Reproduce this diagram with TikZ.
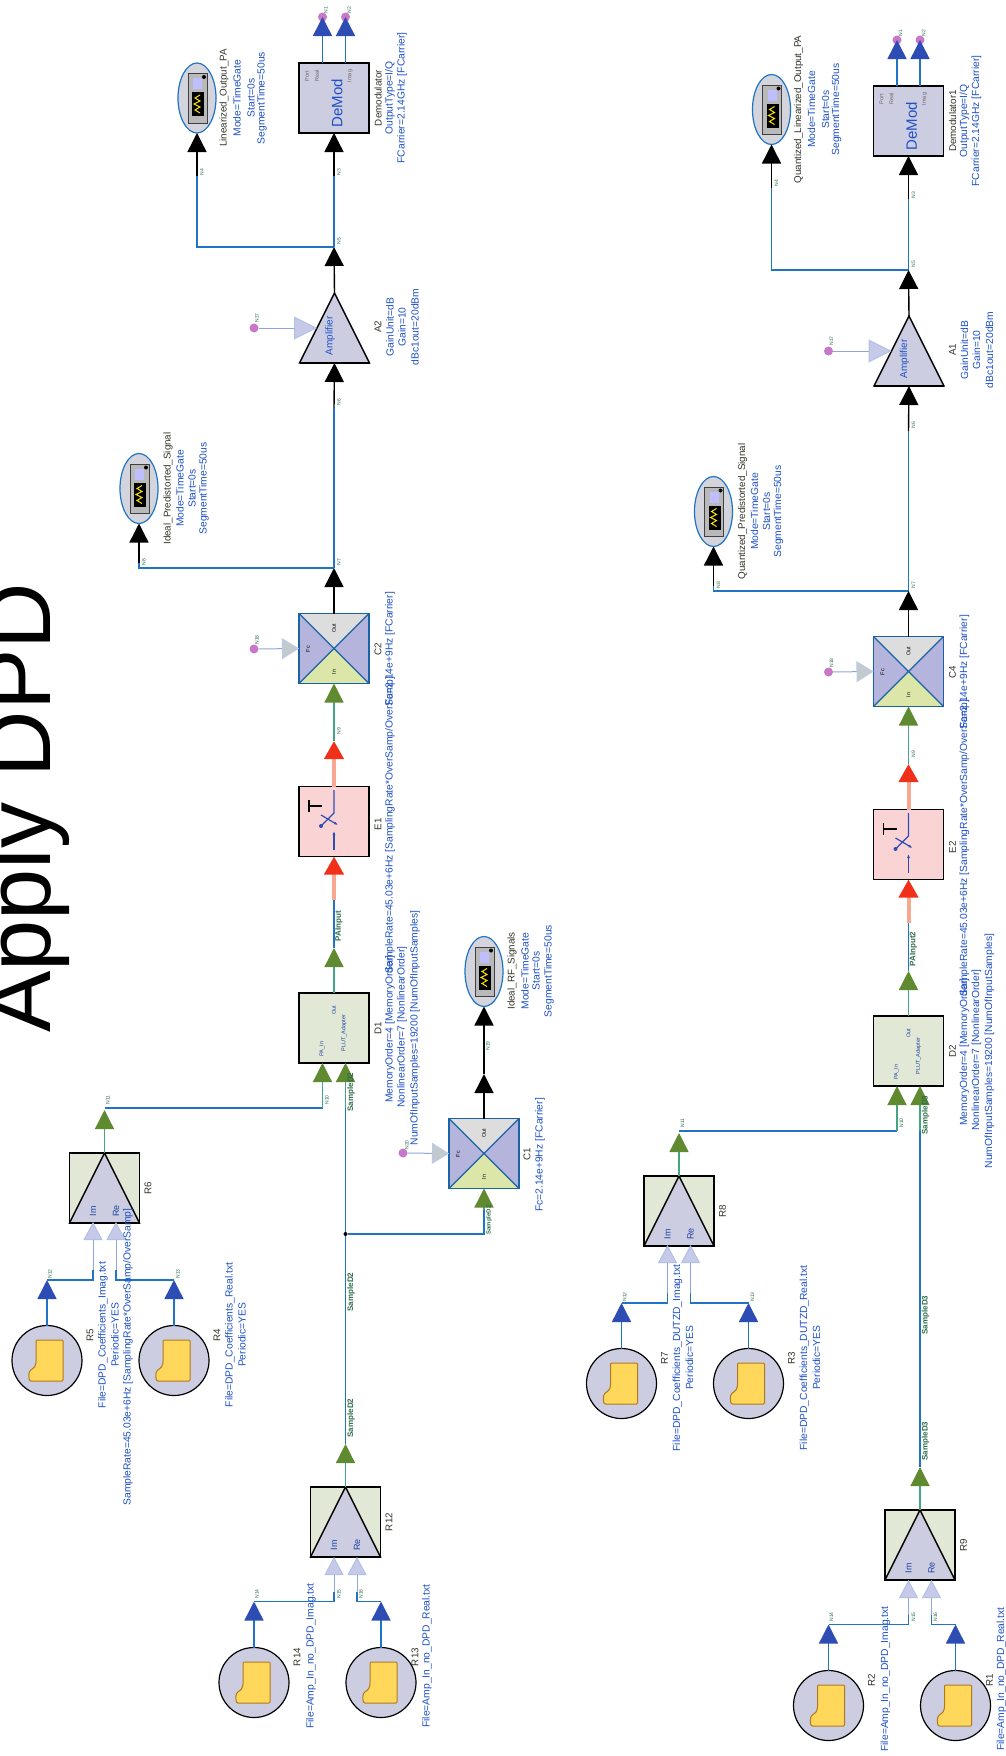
\documentclass[tikz,border=0pt]{standalone}
\usepackage{fontspec}
\setmainfont{Liberation Sans}
\usetikzlibrary{arrows.meta,shapes.geometric,calc}
\definecolor{wireblue}{HTML}{1F74C4}
\definecolor{tipblue}{HTML}{2E4DB4}
\definecolor{wiregreen}{HTML}{45A583}
\definecolor{tipgreen}{HTML}{5F8A30}
\definecolor{tipred}{HTML}{F03018}
\definecolor{salmon}{HTML}{F8A890}
\definecolor{lilac}{HTML}{CDCDE2}
\definecolor{crosslilac}{HTML}{B4B4DC}
\definecolor{crossgray}{HTML}{DDDDDD}
\definecolor{crossyel}{HTML}{DCE6A8}
\definecolor{boxgreen}{HTML}{E1E8D6}
\definecolor{boxpink}{HTML}{FAD4D4}
\definecolor{lighttip}{HTML}{C6CAE8}
\definecolor{lightline}{HTML}{8FA6DC}
\definecolor{graytip}{HTML}{C2CACC}
\definecolor{pinkdot}{HTML}{C878C8}
\definecolor{txtblue}{HTML}{1E50C8}
\definecolor{txtname}{HTML}{33332A}
\definecolor{idgreen}{HTML}{2F6F4A}
\definecolor{docyel}{HTML}{FFD75A}
\definecolor{docedge}{HTML}{B07820}
\definecolor{ovalgray}{HTML}{D4D4DC}
\tikzset{
  wb/.style={draw=wireblue,line width=1.5pt},
  wk/.style={draw=black,line width=1.4pt},
  wg/.style={draw=wiregreen,line width=1.3pt},
  ws/.style={draw=salmon,line width=4pt},
  wl/.style={draw=lightline,line width=1pt},
  tipk/.style={-{Triangle[length=19pt,width=19pt,color=black]}},
  tipb/.style={-{Triangle[length=19pt,width=19pt,color=tipblue]}},
  tipg/.style={-{Triangle[length=19pt,width=19pt,color=tipgreen]}},
  tipr/.style={-{Triangle[length=18pt,width=19pt,color=tipred]}},
  tipl/.style={-{Triangle[length=18pt,width=19pt,fill=lighttip,color=lightline!70]}},
  tipgain/.style={-{Triangle[length=23pt,width=23pt,fill=lighttip,color=lightline!70]}},
  tipgray/.style={-{Triangle[length=17pt,width=21pt,fill=graytip,color=lightline!60]}},
  pinbox/.style={minimum width=70pt,minimum height=70pt,inner sep=0pt,outer sep=0pt},
  darkbox/.style={pinbox,draw=black,line width=1.4pt},
  crossbox/.style={pinbox},
  srccircle/.style={circle,draw=black,line width=1.2pt,fill=lilac,minimum size=70pt,inner sep=0pt,outer sep=0pt},
  scopeoval/.style={ellipse,draw=wireblue,line width=1.2pt,fill=ovalgray,minimum width=38pt,minimum height=70pt,inner sep=0pt,outer sep=0pt},
  gaindot/.style={circle,fill=pinkdot,minimum size=9pt,inner sep=0pt},
  lab/.style={rotate=90,inner sep=0pt,text=txtblue,font=\fontsize{10.3}{11}\selectfont},
  nam/.style={rotate=90,inner sep=0pt,text=txtname,font=\fontsize{9.8}{11}\selectfont},
  pinlab/.style={rotate=90,inner sep=0pt,text=txtblue!80!black,font=\fontsize{5.5}{6}\selectfont},
  idlab/.style={rotate=90,inner sep=0pt,text=idgreen,font=\fontsize{5}{5}\selectfont},
  netlab/.style={rotate=90,inner sep=0pt,text=idgreen,font=\bfseries\fontsize{8}{8}\selectfont},
}
\newcommand\docicon[2]{\begin{scope}[shift={(#1,#2)}]
  \filldraw[fill=docyel,draw=docedge,line width=1pt,rounded corners=1pt] (-11,-20.5) -- (16,-20.5) -- (16,20.5) -- (-15,20.5) .. controls (-18,20.5) and (-18.5,17) .. (-18,13) .. controls (-17,8) and (-12,9) .. (-11,2) -- cycle;
\end{scope}}
\newcommand\scopeicon[2]{\begin{scope}[shift={(#1,#2)}]
  \filldraw[fill=gray!55,draw=black!75,line width=1pt] (-9,-24.5) rectangle (10,25);
  \fill[black] (-5,-6) rectangle (7,18);
  \fill[blue!25] (-4,-20) rectangle (5,-9);
  \draw[yellow!90!orange,line width=1pt] (3,-3) -- (-2,0) -- (3,3) -- (-3,6) -- (3,9) -- (-2,12) -- (3,15);
  \fill[black] (7,-21) circle (2pt);
\end{scope}}
\newcommand\crossfill[1]{%
  \fill[crosslilac] (#1.north west) rectangle (#1.south east);
  \fill[crossgray] (#1.north west) -- (#1.north east) -- (#1.center) -- cycle;
  \fill[crossyel] (#1.south west) -- (#1.south east) -- (#1.center) -- cycle;
  \draw[draw=wireblue!85!black,line width=1.4pt] (#1.north west) rectangle (#1.south east);
  \draw[draw=wireblue!85!black,line width=1.2pt] (#1.north west) -- (#1.south east) (#1.north east) -- (#1.south west);
}
\newcommand\fromparts[1]{%
  \filldraw[fill=lilac,draw=black,line width=1.4pt] (#1.north) -- (#1.south east) -- (#1.south west) -- cycle;
  \draw[black,line width=2.6pt] (#1.south west) -- (#1.south east);
}
\newcommand\dpdchain[1]{%
  % demodulator
  \node[darkbox,fill=lilac] (#1demod) at (334,98) {};
  \node[rotate=90,inner sep=0pt,text=txtblue,font=\fontsize{15}{15}\selectfont] (#1demodt) at (337,103) {DeMod};
  \node[pinlab,text=black!60] (#1dm1) at (307,76) {Port};
  \node[pinlab,text=black!60] (#1dm2) at (317,76) {Real};
  \node[pinlab,text=black!60] (#1dm3) at (350,76) {Imag};
  \coordinate (#1dout1) at (322.5,63); \coordinate (#1dout2) at (345.5,63);
  \node[gaindot] (#1q1) at (322.5,17) {};
  \node[gaindot] (#1q2) at (345.5,17) {};
  \draw[wb,tipb] (#1dout1) -- (#1q1.center);
  \draw[wb,tipb] (#1dout2) -- (#1q2.center);
  \node[nam] (#1demodn) at (378,98) {\nDemod};
  \node[lab] (#1demodp) at (390,98) {OutputType=I/Q};
  \node[lab] (#1demodq) at (402,98) {FCarrier=2.14GHz [FCarrier]};
  % scopes
  \node[scopeoval] (#1scopeA) at (197,\scopeY) {};
  \scopeicon{197}{\scopeY}
  \node[nam] (#1sa1) at (224,\scopeY) {\nScopeA};
  \node[lab] (#1sa2) at (237,\scopeY) {Mode=TimeGate};
  \node[lab] (#1sa3) at (251,\scopeY) {Start=0s};
  \node[lab] (#1sa4) at (262,\scopeY) {SegmentTime=50us};
  \node[scopeoval] (#1scopeB) at (139,488.5) {};
  \scopeicon{139}{488.5}
  \node[nam] (#1sb1) at (168,488.5) {\nScopeB};
  \node[lab] (#1sb2) at (180,488.5) {Mode=TimeGate};
  \node[lab] (#1sb3) at (192,488.5) {Start=0s};
  \node[lab] (#1sb4) at (204,488.5) {SegmentTime=50us};
  % amplifier
  \node[pinbox] (#1amp) at (334.5,328) {};
  \fromparts{#1amp}
  \draw[black,line width=1.4pt] (#1amp.south west) -- (#1amp.south east);
  \node[rotate=90,inner sep=0pt,text=txtblue,font=\fontsize{10}{10}\selectfont] (#1ampt) at (330,336) {Amplifier};
  \coordinate (#1ampG) at (317,328);
  \node[gaindot] (#1ampd) at (254,328) {};
  \draw[wl,tipgain] (#1ampd) -- (#1ampG);
  \node[nam] (#1ampn) at (378,327) {\nAmp};
  \node[lab] (#1amp1) at (390,327) {GainUnit=dB};
  \node[lab] (#1amp2) at (402,327) {Gain=10};
  \node[lab] (#1amp3) at (415,327) {dBc1out=20dBm};
  % modulator
  \node[crossbox] (#1mod) at (334,648.5) {};
  \crossfill{#1mod}
  \node[pinlab,text=black] (#1modt) at (334,628) {Out};
  \node[pinlab,text=black] (#1modb) at (334,672) {In};
  \node[pinlab,text=black] (#1modl) at (308,649) {Fc};
  \node[gaindot] (#1modd) at (254,649) {};
  \draw[wl,tipgray] (#1modd) -- (#1mod.west);
  \node[nam] (#1modn) at (378,649) {\nMod};
  \node[lab] (#1modp) at (390,649) {Fc=2.14e+9Hz [FCarrier]};
  % switch
  \node[darkbox,fill=boxpink] (#1sw) at (334,821.5) {};
  \draw[black,line width=1.2pt] (309,800) -- (309,812) (309,806) -- (322,806);
  \draw[tipblue,line width=1.2pt] (334,790) -- (334,813) -- (321,826);
  \draw[tipblue,line width=1.2pt,-{Latex[length=4pt]}] (321,815) -- (338,825);
  \draw[tipblue,line width=1.2pt,-{Latex[length=4pt]}] (334,850) -- (334,831);
  \fill[tipblue] (321,826) circle (2pt);
  \node[nam] (#1swn) at (378,824) {\nSw};
  \node[lab] (#1swp) at (390,825) {SampleRate=45.03e+6Hz [SamplingRate*OverSamp/OverSamp]};
  % DPD block
  \node[darkbox,fill=boxgreen] (#1dpd) at (334,1028) {};
  \node[pinlab] (#1dp1) at (334,1010) {Out};
  \node[pinlab] (#1dp2) at (322,1049) {PA\_In};
  \node[pinlab] (#1dp3) at (344,1033) {PLUT\_Adapter};
  \coordinate (#1din1) at (322.5,1063); \coordinate (#1din2) at (345.5,1063);
  \node[nam] (#1dpdn) at (378,1028) {\nDpd};
  \node[lab] (#1dpd1) at (390,1029) {MemoryOrder=4 [MemoryOrder]};
  \node[lab] (#1dpd2) at (402,1027) {NonlinearOrder=7 [NonlinearOrder]};
  \node[lab] (#1dpd3) at (415,1028) {NumOfInputSamples=19200 [NumOfInputSamples]};
  % upper real/imag block and sources
  \node[darkbox,fill=boxgreen] (#1rt) at (104.5,1188) {};
  \fromparts{#1rt}
  \node[pinlab,font=\fontsize{9}{9}\selectfont] (#1rtim) at (93,1211) {Im};
  \node[pinlab,font=\fontsize{9}{9}\selectfont] (#1rtre) at (116,1211) {Re};
  \coordinate (#1rtin1) at (93,1222); \coordinate (#1rtin2) at (116,1222);
  \node[nam] (#1rtn) at (148,1188) {\nRt};
  \node[srccircle] (#1sl) at (47,1360.5) {}; \docicon{47}{1360.5}
  \node[srccircle] (#1sr) at (174,1360.5) {}; \docicon{174}{1360.5}
  \node[nam] (#1sln) at (90,1335) {\nSl};
  \node[lab] (#1slf) at (103,1335) {\fSl};
  \node[lab] (#1slp) at (115,1335) {Periodic=YES};
  \node[nam] (#1srn) at (217,1335) {\nSr};
  \node[lab] (#1srf) at (230,1335) {\fSr};
  \node[lab] (#1srp) at (242,1335) {Periodic=YES};
  % lower real/imag block and sources
  \node[darkbox,fill=boxgreen] (#1rb) at (345.5,1522) {};
  \fromparts{#1rb}
  \node[pinlab,font=\fontsize{9}{9}\selectfont] (#1rbim) at (334,1545) {Im};
  \node[pinlab,font=\fontsize{9}{9}\selectfont] (#1rbre) at (357,1545) {Re};
  \coordinate (#1rbin1) at (334,1557); \coordinate (#1rbin2) at (357,1557);
  \node[nam] (#1rbn) at (389,1522) {\nRb};
  \node[srccircle] (#1bl) at (254,1682.5) {}; \docicon{254}{1682.5}
  \node[srccircle] (#1br) at (381,1682.5) {}; \docicon{381}{1682.5}
  \node[nam] (#1bln) at (297,1657) {\nBl};
  \node[lab] (#1blf) at (311,1656) {File=Amp\_In\_no\_DPD\_Imag.txt};
  \node[nam] (#1brn) at (415,1657) {\nBr};
  \node[lab] (#1brf) at (427,1656) {File=Amp\_In\_no\_DPD\_Real.txt};
  % connector points
  \coordinate (#1j1) at (334,247);
  \coordinate (#1j2) at (334,568);
  \coordinate (#1s1) at (334,176);
  \coordinate (#1s2) at (197,\stubY);
  \coordinate (#1s3) at (334,408);
  \coordinate (#1s4) at (139,563);
  \coordinate (#1p1) at (334,741);
  \coordinate (#1p2) at (334,900);
  \coordinate (#1p3) at (334,948);
  \coordinate (#1p4) at (104.5,1108);
  \coordinate (#1p5) at (322.5,1108);
  \coordinate (#1p6) at (345.5,1108);
  \coordinate (#1p7) at (345.5,1444);
  \coordinate (#1a1) at (47,1280); \coordinate (#1a2) at (174,1280);
  \coordinate (#1a3) at (93,1270); \coordinate (#1a4) at (116,1270);
  \coordinate (#1b1) at (254,1601.5); \coordinate (#1b2) at (381,1601.5);
  \coordinate (#1b3) at (334,1592); \coordinate (#1b4) at (357,1592);
  % connectors
  \draw[wk,tipk] (#1s1) -- (#1demod.south);
  \draw[wb] (#1j1) -- (#1s1);
  \draw[wb] (#1j1) -| (#1s2);
  \draw[wk,tipk] (#1s2) -- (#1scopeA.south);
  \draw[wk,tipk] (#1amp.north) -- (#1j1);
  \draw[wk,tipk] (#1s3) -- (#1amp.south);
  \draw[wb] (#1j2) -- (#1s3);
  \draw[wb] (#1j2) -| (#1s4);
  \draw[wk,tipk] (#1s4) -- (#1scopeB.south);
  \draw[wk,tipk] (#1mod.north) -- (#1j2);
  \draw[wg,tipg] (#1p1) -- (#1mod.south);
  \draw[ws,tipr] (#1sw.north) -- (#1p1);
  \draw[ws,tipr] (#1p2) -- (#1sw.south);
  \draw[wb] (#1p3) -- (#1p2);
  \draw[wg,tipg] (#1dpd.north) -- (#1p3);
  \draw[wg,tipg] (#1rt.north) -- ($(#1p4)+(0,2)$);
  \draw[wb] (#1p4) -- (#1p5);
  \draw[wg,tipg] (#1p5) -- (#1din1);
  \draw[wb] (#1p7) -- (#1p6);
  \draw[wg,tipg] (#1p6) -- (#1din2);
  \draw[wg,tipg] (#1rb.north) -- (#1p7);
  \draw[wb,tipb] (#1sl.north) -- (#1a1);
  \draw[wb,tipb] (#1sr.north) -- (#1a2);
  \draw[wb] (#1a1) -| (#1a3);
  \draw[wb] (#1a2) -| (#1a4);
  \draw[wl,tipl] (#1a3) -- (#1rtin1);
  \draw[wl,tipl] (#1a4) -- (#1rtin2);
  \draw[wb,tipb] (#1bl.north) -- (#1b1);
  \draw[wb,tipb] (#1br.north) -- (#1b2);
  \draw[wb] (#1b1) -| (#1b3);
  \draw[wb] (#1b2) -| (#1b4);
  \draw[wl,tipl] (#1b3) -- (#1rbin1);
  \draw[wl,tipl] (#1b4) -- (#1rbin2);
  % net labels
  \node[netlab] (#1l1) at (339,926) {\netA};
  \node[netlab] (#1l2) at (351,1092) {\netB};
  \node[netlab] (#1l3) at (351,1292) {\netB};
  \node[netlab] (#1l4) at (351,1418) {\netB};
  % wire ids
  \foreach \px/\py/\tx [count=\ii] in {
    326/10/N1,349/10/N2,339/172/N3,202/\idY/N4,339/241/N5,339/402/N6,
    339/562/N7,144/562/N8,339/731/N9,327/1100/N10,108/1100/N11,
    50/1274/N12,178/1274/N13,257/1594/N14,339/1594/N15,361/1594/N16,
    257/318/N17,257/640/N18}{
    \node[idlab] (#1id\ii) at (\px,\py) {\tx};
  }
}
\begin{document}
\begin{tikzpicture}[x=1pt,y=-1pt]
\useasboundingbox (0,0) rectangle (1005,1756);
\fill[white] (0,0) rectangle (1005,1756);
\node[rotate=90,anchor=base west,inner sep=0pt,font=\fontsize{92}{92}\selectfont] (title) at (50,1033) {Apply DPD};
% first chain
\def\nDemod{Demodulator}\def\nScopeA{Linearized\_Output\_PA}\def\nScopeB{Ideal\_Predistorted\_Signal}
\def\nAmp{A2}\def\nMod{C2}\def\nSw{E1}\def\nDpd{D1}\def\nRt{R6}\def\nSl{R5}\def\nSr{R4}\def\nRb{R12}\def\nBl{R14}\def\nBr{R13}
\def\fSl{File=DPD\_Coefficients\_Imag.txt}\def\fSr{File=DPD\_Coefficients\_Real.txt}
\def\netA{PAInput}\def\netB{SampleD2}
\def\scopeY{98}\def\stubY{176}\def\idY{172}
\dpdchain{a}
\node[lab] (arate) at (128,1357) {SampleRate=45.03e+6Hz [SamplingRate*OverSamp/OverSamp]};
% branch to the ideal RF path
\node[circle,fill=black,minimum size=4pt,inner sep=0pt] (ajun) at (345.5,1234) {};
\node[crossbox] (amix) at (484,1153.5) {};
\crossfill{amix}
\node[pinlab,text=black] (amixt) at (484,1133) {Out};
\node[pinlab,text=black] (amixb) at (484,1177) {In};
\node[pinlab,text=black] (amixl) at (458,1154) {Fc};
\node[gaindot] (amixd) at (403,1153) {};
\draw[wl,tipgray] (amixd) -- (amix.west);
\node[nam] (amixn) at (527,1154) {C1};
\node[lab] (amixp) at (540,1155) {Fc=2.14e+9Hz [FCarrier]};
\node[scopeoval] (ascopeC) at (484,971.5) {};
\scopeicon{484}{971.5}
\node[nam] (asc1) at (512,971) {Ideal\_RF\_Signals};
\node[lab] (asc2) at (525,971) {Mode=TimeGate};
\node[lab] (asc3) at (536,971) {Start=0s};
\node[lab] (asc4) at (549,971) {SegmentTime=50us};
\coordinate (apc1) at (484,1074);
\coordinate (apc2) at (484,1234);
\coordinate (apc3) at (484,1210);
\draw[wb] (ajun) -- (apc2) -- (apc3);
\draw[wg,tipg] (apc3) -- (amix.south);
\draw[wk,tipk] (amix.north) -- (apc1);
\draw[wk,tipk] (apc1) -- (ascopeC.south);
\node[netlab,font=\bfseries\fontsize{6}{6}\selectfont] (al5) at (489,1220) {SampleD2};
\node[idlab] (aid1) at (488,1046) {N19};
\node[idlab] (aid2) at (407,1145) {N20};
% second chain
\begin{scope}[shift={(574.5,23)}]
\def\nDemod{Demodulator1}\def\nScopeA{Quantized\_Linearized\_Output\_PA}\def\nScopeB{Quantized\_Predistorted\_Signal}
\def\nAmp{A1}\def\nMod{C4}\def\nSw{E2}\def\nDpd{D2}\def\nRt{R8}\def\nSl{R7}\def\nSr{R3}\def\nRb{R9}\def\nBl{R2}\def\nBr{R1}
\def\fSl{File=DPD\_Coefficients\_DUTZD\_Imag.txt}\def\fSr{File=DPD\_Coefficients\_DUTZD\_Real.txt}
\def\netA{PAInput2}\def\netB{SampleD3}
\def\scopeY{86.5}\def\stubY{164.5}\def\idY{160}
\dpdchain{b}
\end{scope}
\end{tikzpicture}
\end{document}
